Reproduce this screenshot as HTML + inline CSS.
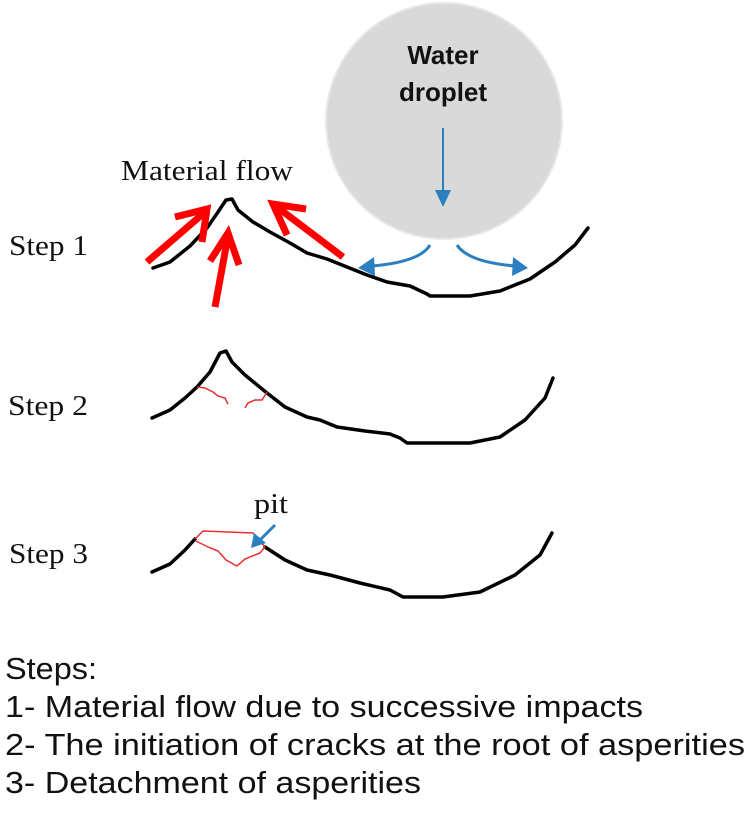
<!DOCTYPE html>
<html><head><meta charset="utf-8"><style>
html,body{margin:0;padding:0;background:#fff;}
svg{display:block;}
</style></head><body>
<svg width="750" height="825" viewBox="0 0 750 825" xmlns="http://www.w3.org/2000/svg">
<!-- droplet -->
<circle cx="444" cy="121" r="118" fill="#d9d9d9" stroke="#e8e8e8" stroke-width="2"/>
<text x="443" y="64" text-anchor="middle" font-family="Liberation Sans, sans-serif" font-weight="bold" font-size="26" fill="#111">Water</text>
<text x="443" y="101" text-anchor="middle" font-family="Liberation Sans, sans-serif" font-weight="bold" font-size="26" fill="#111">droplet</text>
<line x1="443" y1="128" x2="443" y2="192" stroke="#2a7fc0" stroke-width="2"/>
<polygon points="435,190 451,190 443,207" fill="#2a7fc0"/>
<!-- blue side arrows -->
<path d="M430,245 Q420,262 372,266" fill="none" stroke="#2a7fc0" stroke-width="3"/>
<polygon points="358,268 374,257 375,276" fill="#2a7fc0"/>
<path d="M457,245 Q468,262 515,266" fill="none" stroke="#2a7fc0" stroke-width="3"/>
<polygon points="528,268 513,257 512,276" fill="#2a7fc0"/>
<!-- Step 1 surface -->
<path d="M153,268 L170,262 L190,246 L207,228 L218,212 L226,200 L232,199 L238,210 L253,222 L270,232 L290,243 L307,253 L327,259 L347,267 L367,275 L387,282 L410,286 L427,294 L430,296 L470,296 L500,291 L530,279 L555,262 L575,245 L588,228" fill="none" stroke="#000" stroke-width="3.5" stroke-linejoin="round" stroke-linecap="round"/>
<!-- red arrows -->
<g stroke="#ff0000" stroke-width="7" fill="none" stroke-linecap="butt">
<line x1="147" y1="262" x2="205" y2="212"/>
<polyline points="175,217 207,209 202,242"/>
<line x1="215" y1="307" x2="228" y2="236"/>
<polyline points="210,261 228,233 239,265"/>
<line x1="343" y1="257" x2="277" y2="207"/>
<polyline points="306,209 273,204 287,235"/>
</g>
<!-- Step 2 surface -->
<path d="M152,418 L170,410 L185,398 L197,387 L210,372 L220,353 L226,351 L232,362 L245,375 L267,393 L285,407 L307,417 L320,420 L337,427 L365,431 L390,434 L400,438 L407,443 L470,443 L500,437 L525,420 L545,398 L553,378" fill="none" stroke="#000" stroke-width="3.5" stroke-linejoin="round" stroke-linecap="round"/>
<path d="M197,387 L205,388 L213,392 L218,396 L225,398 L228,404" fill="none" stroke="#e83030" stroke-width="1.5"/>
<path d="M267,392 L262,400 L255,400 L248,403 L245,408" fill="none" stroke="#e83030" stroke-width="1.5"/>
<!-- Step 3 surface -->
<path d="M152,572 L170,564 L185,550 L195,539" fill="none" stroke="#000" stroke-width="3.5" stroke-linejoin="round" stroke-linecap="round"/>
<path d="M265,547 L285,560 L307,570 L330,575 L360,583 L390,590 L403,597 L443,597 L480,592 L515,575 L540,555 L552,533" fill="none" stroke="#000" stroke-width="3.5" stroke-linejoin="round" stroke-linecap="round"/>
<path d="M195,539 L203,531 L253,533 L265,547 M196,541 L208,547 L218,551 L226,560 L237,566 L245,559 L255,555 L260,553 L265,547" fill="none" stroke="#e83030" stroke-width="1.5"/>
<line x1="275" y1="525" x2="260" y2="540" stroke="#2a7fc0" stroke-width="3"/>
<polygon points="251,548 254,533 266,543" fill="#2a7fc0"/>
<!-- labels -->
<g font-family="Liberation Serif, serif" fill="#111">
<text x="121" y="180" font-size="29" textLength="172" lengthAdjust="spacingAndGlyphs">Material flow</text>
<text x="9" y="255" font-size="29" textLength="79" lengthAdjust="spacingAndGlyphs">Step 1</text>
<text x="8" y="415" font-size="29" textLength="80" lengthAdjust="spacingAndGlyphs">Step 2</text>
<text x="9" y="563" font-size="29" textLength="79" lengthAdjust="spacingAndGlyphs">Step 3</text>
<text x="254" y="513" font-size="29" textLength="34" lengthAdjust="spacingAndGlyphs">pit</text>
</g>
<g font-family="Liberation Sans, sans-serif" fill="#111" font-size="31">
<text x="5" y="679" textLength="92" lengthAdjust="spacingAndGlyphs">Steps:</text>
<text x="5" y="717" textLength="638" lengthAdjust="spacingAndGlyphs">1- Material flow due to successive impacts</text>
<text x="5" y="755" textLength="740" lengthAdjust="spacingAndGlyphs">2- The initiation of cracks at the root of asperities</text>
<text x="5" y="793" textLength="416" lengthAdjust="spacingAndGlyphs">3- Detachment of asperities</text>
</g>
</svg>
</body></html>
